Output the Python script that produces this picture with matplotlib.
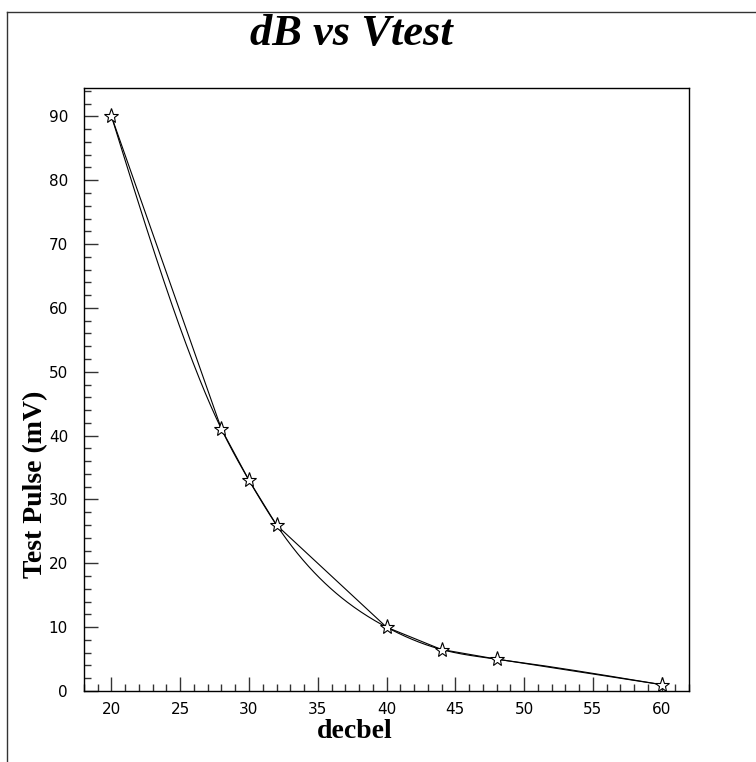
import numpy as np
import matplotlib
matplotlib.use("Agg")
import matplotlib.pyplot as plt
from matplotlib.lines import Line2D
from matplotlib.ticker import MultipleLocator

# values
decibel = [20, 28, 30, 32, 40, 44, 48, 60]
pulse_mv = [90, 41, 33, 26, 10, 6.5, 5, 1]

TITLE = "dB vs Vtest"
XLABEL = "decbel"
YLABEL = "Test Pulse (mV)"


def natural_spline(x, y, n=400):
    # smooth curve through the points (like ROOT's "C" draw option)
    x = np.asarray(x, float)
    y = np.asarray(y, float)
    m = len(x)
    h = np.diff(x)
    A = np.zeros((m, m))
    b = np.zeros(m)
    A[0, 0] = A[-1, -1] = 1.0
    for i in range(1, m - 1):
        A[i, i - 1] = h[i - 1]
        A[i, i] = 2 * (h[i - 1] + h[i])
        A[i, i + 1] = h[i]
        b[i] = 6 * ((y[i + 1] - y[i]) / h[i] - (y[i] - y[i - 1]) / h[i - 1])
    M = np.linalg.solve(A, b)
    xs = np.linspace(x[0], x[-1], n)
    idx = np.clip(np.searchsorted(x, xs) - 1, 0, m - 2)
    x0, x1 = x[idx], x[idx + 1]
    hh = x1 - x0
    t0, t1 = x1 - xs, xs - x0
    ys = (M[idx] * t0**3 + M[idx + 1] * t1**3) / (6 * hh) \
        + (y[idx] / hh - M[idx] * hh / 6) * t0 \
        + (y[idx + 1] / hh - M[idx + 1] * hh / 6) * t1
    return xs, ys


def main():
    fig = plt.figure(figsize=(7.56, 7.62), dpi=100)
    ax = fig.add_axes([84 / 756, 71 / 762, 605 / 756, 603 / 762])

    # canvas frame (left and top edges visible)
    fig.add_artist(Line2D([7 / 756, 7 / 756], [0, 1 - 12 / 762],
                          transform=fig.transFigure, color="#333333", lw=1))
    fig.add_artist(Line2D([7 / 756, 1], [1 - 12 / 762, 1 - 12 / 762],
                          transform=fig.transFigure, color="#333333", lw=1))

    xs, ys = natural_spline(decibel, pulse_mv)
    ax.plot(xs, ys, color="black", lw=0.8)
    ax.plot(decibel, pulse_mv, color="black", lw=0.8, marker="*",
            markersize=11, markerfacecolor="white", markeredgecolor="black",
            markeredgewidth=0.8)

    ax.set_xlim(18, 62)
    ax.set_ylim(0, 94.45)

    ax.xaxis.set_major_locator(MultipleLocator(5))
    ax.xaxis.set_minor_locator(MultipleLocator(1))
    ax.yaxis.set_major_locator(MultipleLocator(10))
    ax.yaxis.set_minor_locator(MultipleLocator(2))
    ax.tick_params(which="both", direction="in", top=False, right=False,
                   width=1, color="#333333")
    ax.tick_params(which="major", length=10, labelsize=11)
    ax.tick_params(which="minor", length=5)
    ax.tick_params(axis="x", which="major", pad=8)
    ax.tick_params(axis="y", which="major", pad=11.5)
    for lab in ax.get_xticklabels() + ax.get_yticklabels():
        lab.set_family("DejaVu Sans")
    for sp in ax.spines.values():
        sp.set_linewidth(1)
        sp.set_color("black")

    fig.text(351 / 756, 1 - 34 / 762, TITLE, ha="center", va="center",
             family="Liberation Serif", weight="bold", style="italic",
             fontsize=32)
    fig.text(355 / 756, 1 - 731 / 762, XLABEL, ha="center", va="center",
             family="Liberation Serif", weight="bold", fontsize=20)
    fig.text(36 / 756, 1 - 484 / 762, YLABEL, ha="center", va="center",
             rotation=90, family="Liberation Serif", weight="bold",
             fontsize=20)

    fig.savefig("out.png", dpi=100, facecolor="white")


if __name__ == "__main__":
    main()
